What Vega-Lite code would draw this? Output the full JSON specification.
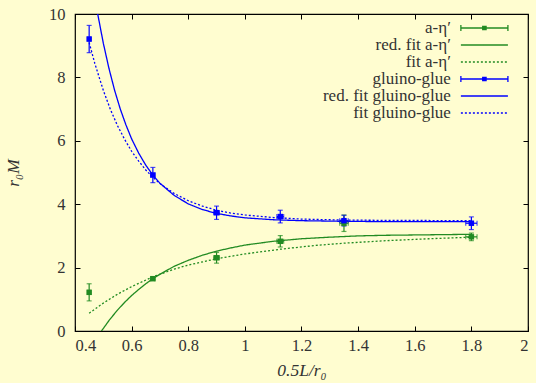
{
  "$schema": "https://vega.github.io/schema/vega-lite/v6.json",
  "width": 453,
  "height": 317,
  "autosize": {"type": "none"},
  "padding": {"left": 75, "top": 14, "right": 8, "bottom": 52},
  "background": "#fffdd0",
  "config": {
    "view": {"stroke": "#000000", "strokeWidth": 1.2},
    "font": "Liberation Serif",
    "axis": {
      "labelFont": "Liberation Serif",
      "labelFontSize": 16.5,
      "labelColor": "#333333",
      "titleFont": "Liberation Serif",
      "titleFontSize": 17.5,
      "titleFontWeight": "normal",
      "titleColor": "#333333",
      "domainColor": "#000000",
      "tickColor": "#000000",
      "grid": false
    }
  },
  "datasets": {
    "points": [
      {"series": "a-η′", "x": 0.45, "y": 1.22, "yerr": 0.27, "xerr": 0.005},
      {"series": "a-η′", "x": 0.675, "y": 1.65, "yerr": 0.03, "xerr": 0.007},
      {"series": "a-η′", "x": 0.9, "y": 2.31, "yerr": 0.17, "xerr": 0.01},
      {"series": "a-η′", "x": 1.125, "y": 2.83, "yerr": 0.18, "xerr": 0.012},
      {"series": "a-η′", "x": 1.35, "y": 3.4, "yerr": 0.26, "xerr": 0.015},
      {"series": "a-η′", "x": 1.8, "y": 2.97, "yerr": 0.12, "xerr": 0.02},
      {"series": "gluino-glue", "x": 0.45, "y": 9.21, "yerr": 0.43, "xerr": 0.005},
      {"series": "gluino-glue", "x": 0.675, "y": 4.92, "yerr": 0.24, "xerr": 0.007},
      {"series": "gluino-glue", "x": 0.9, "y": 3.73, "yerr": 0.21, "xerr": 0.01},
      {"series": "gluino-glue", "x": 1.125, "y": 3.61, "yerr": 0.2, "xerr": 0.012},
      {"series": "gluino-glue", "x": 1.35, "y": 3.48, "yerr": 0.17, "xerr": 0.015},
      {"series": "gluino-glue", "x": 1.8, "y": 3.4, "yerr": 0.2, "xerr": 0.02}
    ],
    "fits": [
      {"series": "red. fit a-η′", "x": 0.4935, "y": 0.0},
      {"series": "red. fit a-η′", "x": 0.5, "y": 0.08},
      {"series": "red. fit a-η′", "x": 0.52, "y": 0.33},
      {"series": "red. fit a-η′", "x": 0.55, "y": 0.66},
      {"series": "red. fit a-η′", "x": 0.575, "y": 0.9},
      {"series": "red. fit a-η′", "x": 0.6, "y": 1.12},
      {"series": "red. fit a-η′", "x": 0.625, "y": 1.31},
      {"series": "red. fit a-η′", "x": 0.65, "y": 1.49},
      {"series": "red. fit a-η′", "x": 0.675, "y": 1.65},
      {"series": "red. fit a-η′", "x": 0.7, "y": 1.79},
      {"series": "red. fit a-η′", "x": 0.75, "y": 2.04},
      {"series": "red. fit a-η′", "x": 0.8, "y": 2.23},
      {"series": "red. fit a-η′", "x": 0.85, "y": 2.39},
      {"series": "red. fit a-η′", "x": 0.9, "y": 2.52},
      {"series": "red. fit a-η′", "x": 0.95, "y": 2.62},
      {"series": "red. fit a-η′", "x": 1.0, "y": 2.71},
      {"series": "red. fit a-η′", "x": 1.1, "y": 2.83},
      {"series": "red. fit a-η′", "x": 1.2, "y": 2.91},
      {"series": "red. fit a-η′", "x": 1.3, "y": 2.96},
      {"series": "red. fit a-η′", "x": 1.4, "y": 3.0},
      {"series": "red. fit a-η′", "x": 1.5, "y": 3.02},
      {"series": "red. fit a-η′", "x": 1.6, "y": 3.03},
      {"series": "red. fit a-η′", "x": 1.7, "y": 3.04},
      {"series": "red. fit a-η′", "x": 1.8, "y": 3.05},
      {"series": "fit a-η′", "x": 0.45, "y": 0.56},
      {"series": "fit a-η′", "x": 0.5, "y": 0.88},
      {"series": "fit a-η′", "x": 0.55, "y": 1.16},
      {"series": "fit a-η′", "x": 0.6, "y": 1.4},
      {"series": "fit a-η′", "x": 0.675, "y": 1.71},
      {"series": "fit a-η′", "x": 0.75, "y": 1.95},
      {"series": "fit a-η′", "x": 0.8, "y": 2.08},
      {"series": "fit a-η′", "x": 0.9, "y": 2.28},
      {"series": "fit a-η′", "x": 1.0, "y": 2.43},
      {"series": "fit a-η′", "x": 1.125, "y": 2.58},
      {"series": "fit a-η′", "x": 1.25, "y": 2.7},
      {"series": "fit a-η′", "x": 1.35, "y": 2.77},
      {"series": "fit a-η′", "x": 1.5, "y": 2.85},
      {"series": "fit a-η′", "x": 1.65, "y": 2.91},
      {"series": "fit a-η′", "x": 1.8, "y": 2.96},
      {"series": "red. fit gluino-glue", "x": 0.475, "y": 10.3},
      {"series": "red. fit gluino-glue", "x": 0.48, "y": 10.01},
      {"series": "red. fit gluino-glue", "x": 0.5, "y": 9.08},
      {"series": "red. fit gluino-glue", "x": 0.52, "y": 8.28},
      {"series": "red. fit gluino-glue", "x": 0.54, "y": 7.59},
      {"series": "red. fit gluino-glue", "x": 0.56, "y": 7.0},
      {"series": "red. fit gluino-glue", "x": 0.58, "y": 6.5},
      {"series": "red. fit gluino-glue", "x": 0.6, "y": 6.06},
      {"series": "red. fit gluino-glue", "x": 0.625, "y": 5.61},
      {"series": "red. fit gluino-glue", "x": 0.65, "y": 5.23},
      {"series": "red. fit gluino-glue", "x": 0.675, "y": 4.92},
      {"series": "red. fit gluino-glue", "x": 0.7, "y": 4.66},
      {"series": "red. fit gluino-glue", "x": 0.75, "y": 4.28},
      {"series": "red. fit gluino-glue", "x": 0.8, "y": 4.01},
      {"series": "red. fit gluino-glue", "x": 0.85, "y": 3.83},
      {"series": "red. fit gluino-glue", "x": 0.9, "y": 3.71},
      {"series": "red. fit gluino-glue", "x": 0.95, "y": 3.63},
      {"series": "red. fit gluino-glue", "x": 1.0, "y": 3.57},
      {"series": "red. fit gluino-glue", "x": 1.1, "y": 3.51},
      {"series": "red. fit gluino-glue", "x": 1.2, "y": 3.48},
      {"series": "red. fit gluino-glue", "x": 1.35, "y": 3.46},
      {"series": "red. fit gluino-glue", "x": 1.5, "y": 3.45},
      {"series": "red. fit gluino-glue", "x": 1.8, "y": 3.45},
      {"series": "fit gluino-glue", "x": 0.45, "y": 9.1},
      {"series": "fit gluino-glue", "x": 0.47, "y": 8.44},
      {"series": "fit gluino-glue", "x": 0.5, "y": 7.59},
      {"series": "fit gluino-glue", "x": 0.525, "y": 6.99},
      {"series": "fit gluino-glue", "x": 0.55, "y": 6.48},
      {"series": "fit gluino-glue", "x": 0.575, "y": 6.05},
      {"series": "fit gluino-glue", "x": 0.6, "y": 5.67},
      {"series": "fit gluino-glue", "x": 0.625, "y": 5.36},
      {"series": "fit gluino-glue", "x": 0.65, "y": 5.08},
      {"series": "fit gluino-glue", "x": 0.675, "y": 4.85},
      {"series": "fit gluino-glue", "x": 0.7, "y": 4.65},
      {"series": "fit gluino-glue", "x": 0.75, "y": 4.34},
      {"series": "fit gluino-glue", "x": 0.8, "y": 4.11},
      {"series": "fit gluino-glue", "x": 0.85, "y": 3.94},
      {"series": "fit gluino-glue", "x": 0.9, "y": 3.81},
      {"series": "fit gluino-glue", "x": 0.95, "y": 3.72},
      {"series": "fit gluino-glue", "x": 1.0, "y": 3.66},
      {"series": "fit gluino-glue", "x": 1.1, "y": 3.58},
      {"series": "fit gluino-glue", "x": 1.2, "y": 3.53},
      {"series": "fit gluino-glue", "x": 1.35, "y": 3.5},
      {"series": "fit gluino-glue", "x": 1.5, "y": 3.49},
      {"series": "fit gluino-glue", "x": 1.8, "y": 3.48}
    ]
  },
  "resolve": {"axis": {"x": "independent", "y": "independent"}},
  "layer": [
    {
      "data": {"name": "fits"},
      "mark": {"type": "line", "clip": true, "strokeWidth": 1.3},
      "encoding": {
        "x": {"field": "x", "type": "quantitative",
          "scale": {"domain": [0.4, 2], "nice": false, "zero": false},
          "axis": {"orient": "bottom", "values": [0.4, 0.6, 0.8, 1, 1.2, 1.4, 1.6, 1.8, 2], "format": "~g", "tickSize": -5, "labelPadding": 11, "domain": false, "title": "0.5L/r₀", "titleFontStyle": "italic", "titlePadding": 8}},
        "y": {"field": "y", "type": "quantitative",
          "scale": {"domain": [0, 10], "nice": false, "zero": false},
          "axis": {"orient": "left", "values": [0, 2, 4, 6, 8, 10], "tickSize": -5, "labelPadding": 15, "domain": false, "title": "r₀M", "titleFontStyle": "italic", "titlePadding": 26}},
        "color": {"field": "series", "type": "nominal",
          "scale": {"domain": ["_", "a-η′", "red. fit a-η′", "fit a-η′", "gluino-glue", "red. fit gluino-glue", "fit gluino-glue"],
                    "range": ["#fffdd0", "#228b22", "#228b22", "#228b22", "#0000ff", "#0000ff", "#0000ff"]},
          "legend": {
            "title": null, "orient": "none", "legendX": 400.4, "legendY": -12, "padding": 0,
            "direction": "vertical", "columns": 1, "gridAlign": "all",
            "symbolSize": 256, "rowPadding": 0,
            "labelAlign": "right", "labelOffset": -42.5, "labelFontSize": 17, "labelFont": "Liberation Serif",
            "labelColor": "#333333", "labelLimit": 300, "symbolStrokeWidth": 1.3,
            "labelExpr": "datum.value == '_' ? ' ' : datum.label",
            "encode": {
              "symbols": {"update": {
                "shape": {"signal": "datum.value == '_' ? 'M0,0' : (indexof(datum.value,'fit')>=0 ? 'M-2.94,0H2.94' : 'M-2.94,0H2.94M-2.94,-0.36V0.36M2.94,-0.36V0.36M-0.21,-0.21H0.21V0.21H-0.21Z')"},
                "strokeDash": {"signal": "indexof(datum.value,'fit')==0 ? [2,2] : [1,0]"},
                "strokeWidth": {"value": 1.3},
                "size": {"value": 256},
                "opacity": {"value": 1}
              }}
            }
          }},
        "strokeDash": {"field": "series", "type": "nominal",
          "scale": {"domain": ["a-η′", "red. fit a-η′", "fit a-η′", "gluino-glue", "red. fit gluino-glue", "fit gluino-glue"],
                    "range": [[1, 0], [1, 0], [2, 2], [1, 0], [1, 0], [2, 2]]},
          "legend": null}
      }
    },
    {
      "data": {"name": "points"},
      "mark": {"type": "errorbar", "ticks": {"size": 5}, "thickness": 1.2},
      "encoding": {
        "x": {"field": "x", "type": "quantitative", "axis": null},
        "y": {"field": "y", "type": "quantitative", "axis": null},
        "yError": {"field": "yerr"},
        "color": {"field": "series", "type": "nominal"}
      }
    },
    {
      "data": {"name": "points"},
      "mark": {"type": "errorbar", "ticks": {"size": 5}, "thickness": 1.2},
      "encoding": {
        "y": {"field": "y", "type": "quantitative", "axis": null},
        "x": {"field": "x", "type": "quantitative", "axis": null},
        "xError": {"field": "xerr"},
        "color": {"field": "series", "type": "nominal"}
      }
    },
    {
      "data": {"name": "points"},
      "mark": {"type": "point", "shape": "square", "filled": true, "size": 30, "opacity": 1},
      "encoding": {
        "x": {"field": "x", "type": "quantitative",
          "axis": {"orient": "top", "values": [0.4, 0.6, 0.8, 1, 1.2, 1.4, 1.6, 1.8, 2], "labels": false, "tickSize": -5, "domain": false, "title": null}},
        "y": {"field": "y", "type": "quantitative",
          "axis": {"orient": "right", "values": [0, 2, 4, 6, 8, 10], "labels": false, "tickSize": -5, "domain": false, "title": null}},
        "color": {"field": "series", "type": "nominal"}
      }
    }
  ]
}
